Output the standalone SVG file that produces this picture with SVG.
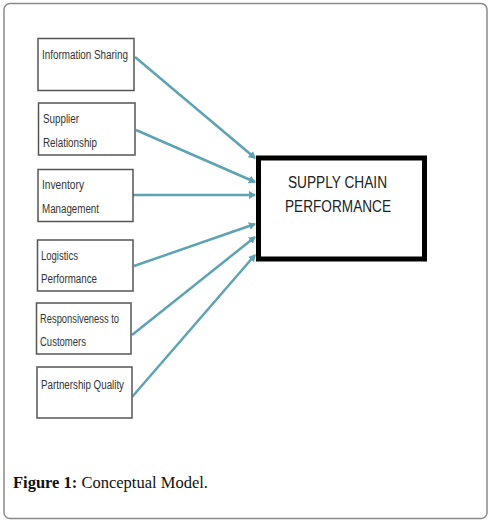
<svg xmlns="http://www.w3.org/2000/svg" width="491" height="532" viewBox="0 0 491 532">
<style>
.frame{fill:#fff;stroke:#8a8a8a;stroke-width:1.5}
.box{fill:#fff;stroke:#555;stroke-width:1.5}
.lbl{font-family:"Liberation Sans",Arial,sans-serif;font-size:12.5px;fill:#333}
.main{fill:#fff;stroke:#000;stroke-width:5}
.mt{font-family:"Liberation Sans",Arial,sans-serif;font-size:16px;fill:#222}
.cap{font-family:"Liberation Serif","Times New Roman",serif;font-size:16.5px;fill:#111}
.arr{stroke:#5da3b4;stroke-width:2.5;fill:none;marker-end:url(#ah)}
</style>
<defs>
<marker id="ah" markerWidth="8" markerHeight="8" refX="6" refY="4" orient="auto" markerUnits="userSpaceOnUse">
<path d="M0,0 L7,4 L0,8 Z" fill="#5da3b4"/>
</marker>
</defs>
<rect class="frame" x="4" y="3.5" width="483" height="515" rx="6"/>
<g id="connectors">
<line class="arr" x1="135" y1="57" x2="255" y2="158"/>
<line class="arr" x1="136" y1="130" x2="255" y2="182"/>
<line class="arr" x1="133" y1="195" x2="255" y2="195"/>
<line class="arr" x1="134" y1="266" x2="255" y2="224"/>
<line class="arr" x1="132" y1="335" x2="255" y2="237"/>
<line class="arr" x1="132" y1="397" x2="255" y2="255"/>
</g>
<g id="n1"><rect class="box" x="38" y="38.5" width="96" height="52"/><text class="lbl" x="42" y="59" textLength="86" lengthAdjust="spacingAndGlyphs">Information Sharing</text></g>
<g id="n2"><rect class="box" x="38.5" y="103" width="96.5" height="52"/><text class="lbl" x="43" y="123" textLength="36" lengthAdjust="spacingAndGlyphs">Supplier</text><text class="lbl" x="43" y="147" textLength="54" lengthAdjust="spacingAndGlyphs">Relationship</text></g>
<g id="n3"><rect class="box" x="38" y="169.5" width="95" height="52"/><text class="lbl" x="42" y="189" textLength="42" lengthAdjust="spacingAndGlyphs">Inventory</text><text class="lbl" x="42" y="213" textLength="57" lengthAdjust="spacingAndGlyphs">Management</text></g>
<g id="n4"><rect class="box" x="37.5" y="240" width="95.5" height="51"/><text class="lbl" x="41" y="260" textLength="37" lengthAdjust="spacingAndGlyphs">Logistics</text><text class="lbl" x="41" y="283" textLength="56" lengthAdjust="spacingAndGlyphs">Performance</text></g>
<g id="n5"><rect class="box" x="36.5" y="303" width="94.5" height="51"/><text class="lbl" x="40" y="323" textLength="79" lengthAdjust="spacingAndGlyphs">Responsiveness to</text><text class="lbl" x="40" y="346" textLength="46" lengthAdjust="spacingAndGlyphs">Customers</text></g>
<g id="n6"><rect class="box" x="37" y="367" width="95" height="51"/><text class="lbl" x="41" y="389" textLength="83" lengthAdjust="spacingAndGlyphs">Partnership Quality</text></g>
<g id="main"><rect class="main" x="258.5" y="158" width="166" height="101"/><text class="mt" x="288" y="188" textLength="99" lengthAdjust="spacingAndGlyphs">SUPPLY CHAIN</text><text class="mt" x="285" y="212" textLength="106" lengthAdjust="spacingAndGlyphs">PERFORMANCE</text></g>
<text class="cap" x="13" y="488"><tspan font-weight="bold">Figure 1:</tspan> Conceptual Model.</text>
</svg>
